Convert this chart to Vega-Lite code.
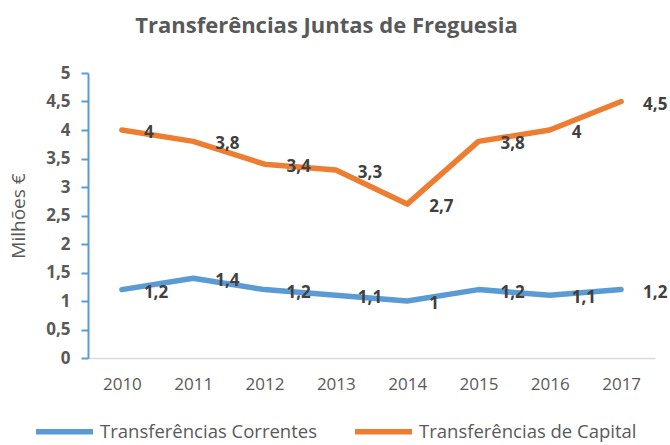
{
  "$schema": "https://vega.github.io/schema/vega-lite/v6.json",
  "width": 567,
  "height": 285,
  "autosize": {"type": "none"},
  "padding": {"left": 88, "top": 73, "right": 15, "bottom": 87},
  "config": {
    "locale": {"number": {"decimal": ",", "thousands": ".", "grouping": [3], "currency": ["", " €"]}},
    "font": "Open Sans",
    "view": {"stroke": null}
  },
  "title": {
    "text": "Transferências Juntas de Freguesia",
    "fontSize": 22,
    "fontWeight": "bold",
    "color": "#595959",
    "anchor": "middle",
    "dx": -45,
    "offset": 26
  },
  "data": {
    "values": [
      {"ano": "2010", "serie": "Transferências Correntes", "valor": 1.2},
      {"ano": "2011", "serie": "Transferências Correntes", "valor": 1.4},
      {"ano": "2012", "serie": "Transferências Correntes", "valor": 1.2},
      {"ano": "2013", "serie": "Transferências Correntes", "valor": 1.1},
      {"ano": "2014", "serie": "Transferências Correntes", "valor": 1.0},
      {"ano": "2015", "serie": "Transferências Correntes", "valor": 1.2},
      {"ano": "2016", "serie": "Transferências Correntes", "valor": 1.1},
      {"ano": "2017", "serie": "Transferências Correntes", "valor": 1.2},
      {"ano": "2010", "serie": "Transferências de Capital", "valor": 4.0},
      {"ano": "2011", "serie": "Transferências de Capital", "valor": 3.8},
      {"ano": "2012", "serie": "Transferências de Capital", "valor": 3.4},
      {"ano": "2013", "serie": "Transferências de Capital", "valor": 3.3},
      {"ano": "2014", "serie": "Transferências de Capital", "valor": 2.7},
      {"ano": "2015", "serie": "Transferências de Capital", "valor": 3.8},
      {"ano": "2016", "serie": "Transferências de Capital", "valor": 4.0},
      {"ano": "2017", "serie": "Transferências de Capital", "valor": 4.5}
    ]
  },
  "encoding": {
    "x": {
      "field": "ano",
      "type": "ordinal",
      "scale": {"type": "point", "padding": 0.475},
      "axis": {
        "title": null,
        "labelAngle": 0,
        "labelFontSize": 17,
        "labelColor": "#595959",
        "labelPadding": 18,
        "ticks": false,
        "domainColor": "#D9D9D9",
        "domainWidth": 1.5
      }
    },
    "y": {
      "field": "valor",
      "type": "quantitative",
      "scale": {"domain": [0, 5], "nice": false},
      "axis": {
        "title": "Milhões €",
        "titleFontSize": 19,
        "titleFontWeight": "normal",
        "titleColor": "#595959",
        "titlePadding": 17,
        "values": [0, 0.5, 1, 1.5, 2, 2.5, 3, 3.5, 4, 4.5, 5],
        "format": ".1~f",
        "grid": false,
        "labelFontSize": 17,
        "labelFontWeight": "bold",
        "labelColor": "#595959",
        "labelPadding": 11,
        "domainColor": "#5B9BD5",
        "domainWidth": 2,
        "tickColor": "#5B9BD5",
        "tickWidth": 2,
        "tickSize": 7
      }
    }
  },
  "layer": [
    {
      "mark": {"type": "line", "strokeWidth": 5.5, "strokeCap": "round", "strokeJoin": "round"},
      "encoding": {
        "color": {
          "field": "serie",
          "type": "nominal",
          "scale": {
            "domain": ["Transferências Correntes", "Transferências de Capital"],
            "range": ["#5B9BD5", "#ED7D31"]
          },
          "legend": {
            "title": null,
            "orient": "none",
            "direction": "horizontal",
            "legendX": -55,
            "legendY": 327,
            "padding": 0,
            "symbolType": "stroke",
            "symbolStrokeWidth": 5.5,
            "symbolSize": 3250,
            "labelFontSize": 18.5,
            "labelLimit": 400,
            "labelColor": "#595959",
            "labelOffset": 4,
            "columnPadding": 26
          }
        }
      }
    },
    {
      "mark": {"type": "text", "align": "left", "baseline": "middle", "dx": 22, "dy": 3, "fontSize": 17, "fontWeight": "bold", "color": "#404040"},
      "encoding": {
        "text": {"field": "valor", "type": "quantitative", "format": ".1~f"}
      }
    }
  ]
}
